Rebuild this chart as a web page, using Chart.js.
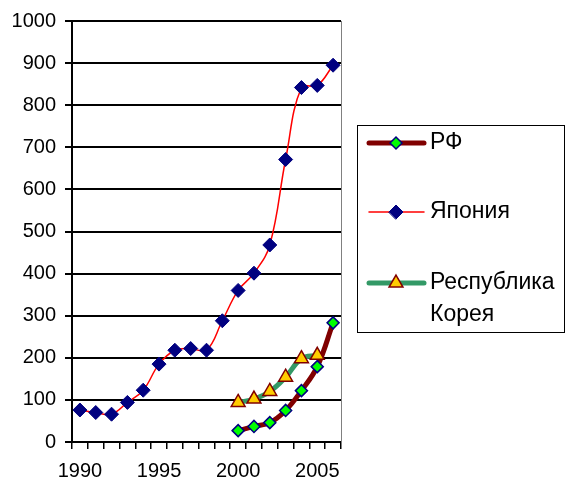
<!DOCTYPE html>
<html>
<head>
<meta charset="utf-8">
<script src="https://cdn.jsdelivr.net/npm/chart.js@4"></script>
<style>
  html, body { margin: 0; padding: 0; background: #fff; }
  #wrap { position: relative; width: 567px; height: 487px; }
</style>
</head>
<body>
<div id="wrap"><canvas id="chart" width="567" height="487"></canvas></div>
<script>
// Years along the x axis (one category per year)
const years = ['1990', '1991', '1992', '1993', '1994', '1995', '1996', '1997', '1998',
    '1999', '2000', '2001', '2002', '2003', '2004', '2005', '2006'];
const xTickLabels = ['1990', '1995', '2000', '2005'];

// Series values
const rfValues = [null, null, null, null, null, null, null, null, null, null,
    27, 37, 46, 75, 122, 179, 283];
const japanValues = [76, 70, 66, 94, 123, 185, 218, 222, 218, 288,
    360, 401, 468, 671, 842, 847, 895];
const koreaValues = [null, null, null, null, null, null, null, null, null, null,
    94, 102, 120, 154, 198, 206, null];

const seriesNames = ['РФ', 'Япония', ['Республика', 'Корея']];

const FONT = '"Liberation Sans", Arial, sans-serif';

/**
 * Draws the boxed legend and the grey right border of the plot area
 */
const boxLegend = {
    id: 'boxLegend',
    afterDraw(chart) {
        const ctx = chart.ctx;
        const area = chart.chartArea;
        ctx.save();

        // right border of plot area
        ctx.strokeStyle = '#808080';
        ctx.lineWidth = 1;
        ctx.beginPath();
        ctx.moveTo(area.right + 0.5, area.top);
        ctx.lineTo(area.right + 0.5, area.bottom);
        ctx.stroke();

        // legend frame
        ctx.strokeStyle = '#000';
        ctx.strokeRect(357.5, 125.5, 207, 207);

        const rows = [143, 212, 283];
        ctx.font = '23px ' + FONT;
        ctx.textBaseline = 'middle';
        chart.data.datasets.forEach((ds, i) => {
            const y = rows[i];
            ctx.strokeStyle = ds.borderColor;
            ctx.lineWidth = ds.borderWidth;
            ctx.lineCap = 'round';
            ctx.beginPath();
            ctx.moveTo(369, y);
            ctx.lineTo(424, y);
            ctx.stroke();
            ctx.fillStyle = ds.pointBackgroundColor;
            ctx.strokeStyle = ds.pointBorderColor;
            ctx.lineWidth = ds.pointBorderWidth;
            Chart.helpers.drawPoint(ctx, {
                pointStyle: ds.pointStyle,
                radius: ds.pointRadius,
                rotation: 0,
                borderWidth: ds.pointBorderWidth
            }, 396, y);
            ctx.fillStyle = '#000';
            const name = seriesNames[i];
            const lines = Array.isArray(name) ? name : [name];
            lines.forEach((t, k) => ctx.fillText(t, 430, y + k * 32));
        });
        ctx.restore();
    }
};

const ctx = document.getElementById('chart').getContext('2d');

const chart = new Chart(ctx, {
    type: 'line',
    data: {
        labels: years,
        datasets: [{
            label: 'РФ',
            data: rfValues,
            borderColor: '#800000',
            borderWidth: 5,
            tension: 0.4,
            pointStyle: 'rectRot',
            pointRadius: 6,
            pointBackgroundColor: '#00ff00',
            pointBorderColor: '#000080',
            pointBorderWidth: 1.5,
            order: 1
        }, {
            label: 'Япония',
            data: japanValues,
            borderColor: '#ff0000',
            borderWidth: 1.5,
            tension: 0.4,
            pointStyle: 'rectRot',
            pointRadius: 7,
            pointBackgroundColor: '#000080',
            pointBorderColor: '#000080',
            pointBorderWidth: 1,
            order: 2
        }, {
            label: 'Республика Корея',
            data: koreaValues,
            borderColor: '#339966',
            borderWidth: 5,
            tension: 0.4,
            pointStyle: 'triangle',
            pointRadius: 8,
            pointBackgroundColor: '#ffcc00',
            pointBorderColor: '#800000',
            pointBorderWidth: 1.5,
            order: 0
        }]
    },
    options: {
        responsive: false,
        animation: false,
        layout: {
            padding: { left: 10, right: 226, top: 21, bottom: 0 }
        },
        plugins: {
            legend: { display: false },
            tooltip: { enabled: false }
        },
        scales: {
            x: {
                type: 'category',
                offset: true,
                grid: {
                    offset: true,
                    drawOnChartArea: false,
                    drawTicks: true,
                    tickLength: 7,
                    color: '#000',
                    lineWidth: 1.5
                },
                border: { color: '#000', width: 2 },
                ticks: {
                    autoSkip: false,
                    maxRotation: 0,
                    padding: 10,
                    color: '#000',
                    font: { family: FONT, size: 20 },
                    callback: function(value) {
                        const label = this.getLabelForValue(value);
                        return xTickLabels.includes(label) ? label : '';
                    }
                },
                afterFit: function(scale) { scale.height = 45; }
            },
            y: {
                min: 0,
                max: 1000,
                grid: {
                    color: '#000',
                    lineWidth: 2,
                    tickLength: 7
                },
                border: { color: '#000', width: 2 },
                ticks: {
                    stepSize: 100,
                    padding: 9,
                    color: '#000',
                    font: { family: FONT, size: 20 },
                    callback: value => String(value)
                },
                afterFit: function(scale) { scale.width = 62; }
            }
        }
    },
    plugins: [boxLegend]
});
</script>
</body>
</html>
